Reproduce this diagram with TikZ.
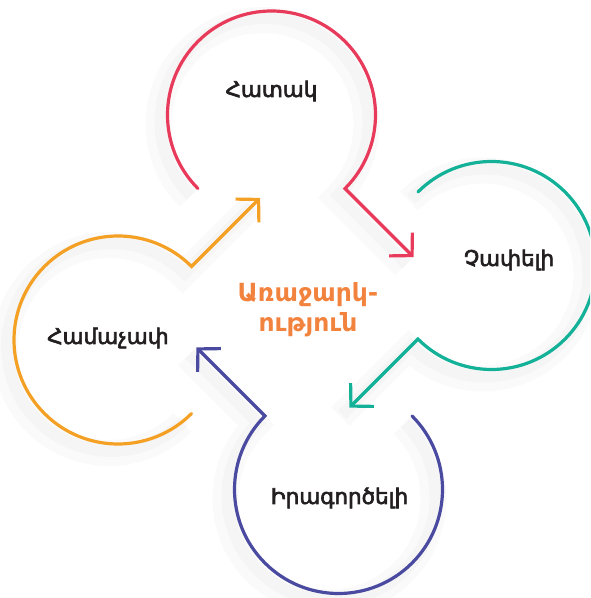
\documentclass[tikz,border=0pt]{standalone}
\usepackage{fontspec}
\setmainfont{DejaVu Sans}
\newfontfamily\wordfont[FakeBold=3]{DejaVu Sans}
\usetikzlibrary{arrows.meta}

\definecolor{ringred}{HTML}{E83A5A}
\definecolor{ringteal}{HTML}{13B197}
\definecolor{ringblue}{HTML}{4A4BA0}
\definecolor{ringorange}{HTML}{F4A024}
\definecolor{titleorange}{HTML}{F2833F}
\definecolor{ink}{HTML}{231F20}

\tikzset{
  ring/.style={line width=3.2pt, line cap=round, line join=miter,
    -{Straight Barb[length=16pt,width=33pt,sharp]},
    preaction={-, draw=black, draw opacity=.018, line width=26pt,
      transform canvas={shift={(-9pt,-9pt)}}},
    preaction={-, draw=black, draw opacity=.02, line width=12pt,
      transform canvas={shift={(-7pt,-7pt)}}}},
  word/.style={text=ink, font=\wordfont\fontsize{21.5}{24}\selectfont},
  title/.style={text=titleorange, font=\bfseries\fontsize{25}{30}\selectfont, align=center}
}

\begin{document}
\begin{tikzpicture}[x=1pt,y=1pt]
  \useasboundingbox (0,0) rectangle (590,598);
  \clip (0,0) rectangle (590,598);

  \coordinate (hatak ring) at (271.5,483);
  \coordinate (chapeli ring) at (491.5,332.5);
  \coordinate (iragortseli ring) at (338.5,108.5);
  \coordinate (hamachap ring) at (118,258);

  \draw[ring, ringred]
    (hatak ring) ++(225:104) arc[start angle=225, end angle=-45, radius=104] -- ++(-45:97);
  \draw[ring, ringteal]
    (chapeli ring) ++(135:104) arc[start angle=135, end angle=-135, radius=104] -- ++(225:97);
  \draw[ring, ringblue]
    (iragortseli ring) ++(45:104) arc[start angle=45, end angle=-225, radius=104] -- ++(135:97);
  \draw[ring, ringorange]
    (hamachap ring) ++(-45:104) arc[start angle=-45, end angle=-315, radius=104] -- ++(45:97);

  \node[word] (hatak) at (271.5,507) {Հատակ};
  \node[word] (chapeli) at (509,338) {Չափելի};
  \node[word] (iragortseli) at (339.5,100) {Իրագործելի};
  \node[word] (hamachap) at (108,260) {Համաչափ};
  \node[title] (arajark) at (308,288) {Առաջարկ-\\ություն};
\end{tikzpicture}
\end{document}
